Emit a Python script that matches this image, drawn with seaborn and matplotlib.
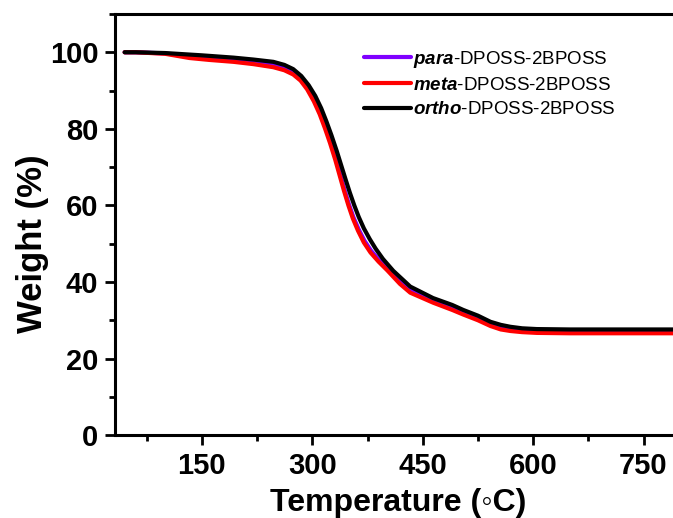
import numpy as np
import pandas as pd
import matplotlib
matplotlib.use('Agg')
import matplotlib.pyplot as plt
import seaborn as sns
from matplotlib.ticker import MultipleLocator

sns.set_style('ticks')
plt.rcParams['font.family'] = ['Liberation Sans', 'DejaVu Sans']
plt.rcParams['mathtext.fontset'] = 'custom'
plt.rcParams['mathtext.bfit'] = 'Liberation Sans:bold:italic'
plt.rcParams['mathtext.rm'] = 'Liberation Sans'
plt.rcParams['text.color'] = 'black'
plt.rcParams['axes.labelcolor'] = 'black'
plt.rcParams['xtick.color'] = 'black'
plt.rcParams['ytick.color'] = 'black'
plt.rcParams['axes.edgecolor'] = 'black'

# TGA curves
temp_para = [45, 60, 100, 133, 160, 193, 220, 247, 262, 274, 284, 294, 303, 311, 318, 325, 332, 338, 344, 350,
             356, 363, 371, 380, 391, 403, 420, 434, 464, 490, 505, 525, 542, 556, 569, 585, 605, 650, 700, 790]
w_para = [100, 100, 99.7, 98.9, 98.5, 98.0, 97.4, 96.7, 95.9, 94.8, 93.0, 90.6, 87.5, 84.0, 80.3, 76.4, 72.1, 68.0, 63.9, 60.1,
          56.8, 53.7, 50.7, 48.1, 45.7, 43.4, 40.0, 37.7, 35.1, 33.2, 32.0, 30.4, 28.9, 28.0, 27.6, 27.3, 27.1, 27.0, 27.0, 27.0]

temp_meta = [45, 60, 100, 133, 160, 193, 220, 247, 262, 274, 284, 293, 302, 310, 317, 324, 331, 337, 343, 349,
             355, 362, 370, 379, 390, 402, 419, 433, 464, 490, 505, 525, 542, 556, 569, 585, 605, 650, 700, 790]
w_meta = [100, 100, 99.6, 98.5, 98.0, 97.5, 96.9, 96.1, 95.3, 94.2, 92.6, 90.3, 87.2, 83.8, 80.2, 76.3, 72.0, 67.9, 63.8, 60.0,
          56.6, 53.4, 50.3, 47.7, 45.3, 43.0, 39.5, 37.2, 34.6, 32.7, 31.5, 30.0, 28.5, 27.6, 27.2, 26.9, 26.7, 26.6, 26.6, 26.6]

temp_ortho = [45, 60, 100, 125, 150, 193, 220, 247, 262, 274, 285, 295, 304, 312, 319, 326, 333, 339, 345, 351,
              357, 363, 370, 378, 386, 396, 410, 433, 464, 490, 505, 525, 542, 556, 569, 585, 605, 650, 700, 790]
w_ortho = [100, 100, 99.8, 99.5, 99.2, 98.6, 98.1, 97.5, 96.7, 95.6, 93.8, 91.4, 88.6, 85.4, 82.0, 78.3, 74.3, 70.6, 66.9, 63.3,
           60.0, 57.0, 54.0, 51.2, 48.7, 46.0, 42.9, 38.8, 35.8, 34.0, 32.7, 31.2, 29.6, 28.8, 28.3, 27.9, 27.7, 27.6, 27.6, 27.6]

labels = [r'$\mathbfit{para}$-DPOSS-2BPOSS', r'$\mathbfit{meta}$-DPOSS-2BPOSS', r'$\mathbfit{ortho}$-DPOSS-2BPOSS']
colors = ['#7F00FF', '#FF0000', '#000000']

fig = plt.figure(figsize=(6.73, 5.18), dpi=100)
ax = fig.add_axes([0.171, 0.160, 0.829, 0.813])

for t, w, lab, c in zip([temp_para, temp_meta, temp_ortho], [w_para, w_meta, w_ortho], labels, colors):
    sns.lineplot(x=t, y=w, color=c, lw=3, label=lab, ax=ax, sort=False)

ax.set_xlim(32, 790)
ax.set_ylim(0, 110)
ax.xaxis.set_major_locator(MultipleLocator(150))
ax.xaxis.set_minor_locator(MultipleLocator(75))
ax.yaxis.set_major_locator(MultipleLocator(20))
ax.yaxis.set_minor_locator(MultipleLocator(10))
ax.spines['right'].set_visible(False)
for s in ['left', 'bottom', 'top']:
    ax.spines[s].set_linewidth(2.2)
ax.tick_params(which='major', length=7, width=2, direction='out', pad=5)
ax.tick_params(which='minor', length=4, width=2, direction='out')
ax.tick_params(top=False, right=False, which='both')
for lb in ax.get_xticklabels() + ax.get_yticklabels():
    lb.set_fontsize(21)
    lb.set_fontweight('bold')

ax.set_xlabel('Temperature (\u25e6C)', fontsize=23, fontweight='bold')
ax.set_ylabel('Weight (%)', fontsize=25, fontweight='bold')
ax.xaxis.set_label_coords(0.507, -0.125)
ax.yaxis.set_label_coords(-0.118, 0.454)

ax.legend(loc='upper left', bbox_to_anchor=(0.43, 0.94), frameon=False, fontsize=13.5,
          handlelength=2.5, handletextpad=0.1, labelspacing=0.38, borderpad=0)

fig.savefig('out.png', dpi=100)
